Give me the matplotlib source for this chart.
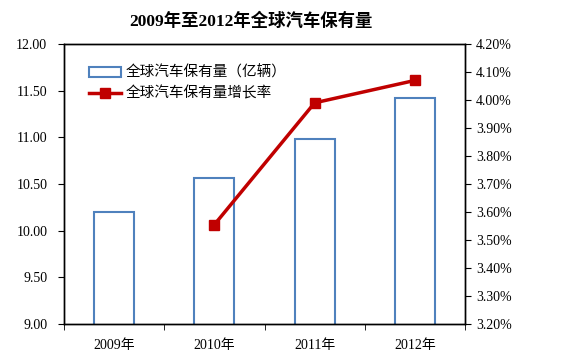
import matplotlib.pyplot as plt
import numpy as np
from matplotlib.ticker import FuncFormatter, FixedLocator

plt.rcParams['font.family'] = ['Liberation Serif', 'Noto Sans CJK SC']

years = ['2009年', '2010年', '2011年', '2012年']
stock = [10.20, 10.56, 10.98, 11.42]          # 全球汽车保有量(亿辆)
growth_years = ['2010年', '2011年', '2012年']
growth = [3.555, 3.99, 4.07]                    # 增长率 %

fig = plt.figure(figsize=(5.64, 3.58), dpi=100)
ax = fig.add_axes([0.1135, 0.095, 0.711, 0.782])
x = np.arange(len(years))

# bars
ax.bar(x, stock, width=0.4, bottom=0, color='white', edgecolor='#4F81BD',
       linewidth=1.5, label='全球汽车保有量（亿辆）')
ax.set_ylim(9, 12)
ax.set_xlim(-0.5, 3.5)
ax.set_yticks(np.arange(9, 12.01, 0.5))
ax.yaxis.set_major_formatter(FuncFormatter(lambda v, p: f'{v:.2f}'))
ax.set_xticks(x)
ax.set_xticklabels(years)
ax.xaxis.set_minor_locator(FixedLocator(np.arange(-0.5, 3.6, 1)))
ax.tick_params(axis='x', which='major', length=0, pad=11, labelsize=10)
ax.tick_params(axis='x', which='minor', length=4, direction='out')
ax.tick_params(axis='y', direction='out', length=4, labelsize=10, pad=8)

# growth line
ax2 = ax.twinx()
gx = [years.index(y) for y in growth_years]
ax2.plot(gx, growth, color='#C00000', linewidth=2.5, marker='s',
         markersize=7, label='全球汽车保有量增长率')
ax2.set_ylim(3.2, 4.2)
ax2.set_yticks(np.arange(3.2, 4.201, 0.1))
ax2.yaxis.set_major_formatter(FuncFormatter(lambda v, p: f'{v:.2f}%'))
ax2.tick_params(axis='y', direction='out', length=4, labelsize=10, pad=4)

for a in (ax, ax2):
    for s in a.spines.values():
        s.set_color('black')
        s.set_linewidth(1.0)

h1, l1 = ax.get_legend_handles_labels()
h2, l2 = ax2.get_legend_handles_labels()
ax.legend(h1 + h2, l1 + l2, loc='upper left', bbox_to_anchor=(0.03, 0.97),
          frameon=False, prop={'family': ['Noto Sans CJK SC'], 'size': 10.5},
          handlelength=2.2, labelspacing=0.45, handletextpad=0.3)

fig.suptitle('2009年至2012年全球汽车保有量', x=0.445, y=0.965,
             fontsize=12.5, fontweight='bold')

plt.savefig('out.png', dpi=100)
